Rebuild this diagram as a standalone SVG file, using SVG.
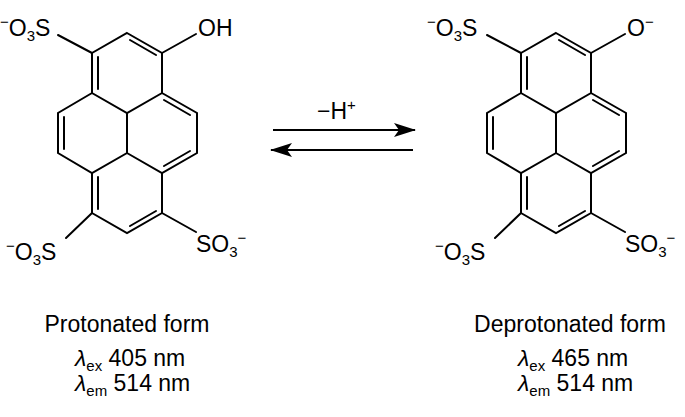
<svg xmlns="http://www.w3.org/2000/svg" width="685" height="417" viewBox="0 0 685 417">
<defs>
<style>
.b{stroke:#000;stroke-width:2;fill:none;stroke-linecap:round}
text{font-family:"Liberation Sans",Arial,sans-serif;font-size:23px;fill:#000}
.s{font-size:15px}
</style>
<marker id="ah" viewBox="0 0 22 14" refX="21" refY="7" markerWidth="22" markerHeight="14" markerUnits="userSpaceOnUse" orient="auto"><path d="M0,0 L22,7 L0,14 L5,7 z" fill="#000"/></marker>
<g id="mol">
<path class="b" d="M127,33 L162,53 L162,93 L127,113 L92,93 L92,53 Z M92,93 L58,113 L58,153 L92,173 L127,153 L127,113 M162,93 L197,113 L197,153 L162,173 L127,153 M92,173 L92,213 L127,233 L162,213 L162,173"/>
<path class="b" d="M130,40 L156,55 M98,57 L98,89 M64,117 L64,149 M164,100 L190,115 M164,166 L190,151 M98,177 L98,209 M130,226 L156,211"/>
<path class="b" d="M92,53 L58,35 M162,53 L196,34 M92,213 L66,238 M162,213 L196,232"/>
</g>
</defs>
<g id="protonated">
<use href="#mol"/>
<text x="0" y="36"><tspan class="s" dy="-9">−</tspan><tspan dy="9">O</tspan><tspan class="s" dy="5">3</tspan><tspan dy="-5">S</tspan></text>
<text x="198" y="36">OH</text>
<text x="6" y="260"><tspan class="s" dy="-9">−</tspan><tspan dy="9">O</tspan><tspan class="s" dy="5">3</tspan><tspan dy="-5">S</tspan></text>
<text x="196" y="252">SO<tspan class="s" dy="5">3</tspan><tspan class="s" dy="-14">−</tspan></text>
<text x="127" y="332" text-anchor="middle">Protonated form</text>
<text x="75" y="366"><tspan font-style="italic">λ</tspan><tspan class="s" dy="5">ex</tspan><tspan dy="-5"> 405 nm</tspan></text>
<text x="75" y="391"><tspan font-style="italic">λ</tspan><tspan class="s" dy="5">em</tspan><tspan dy="-5"> 514 nm</tspan></text>
</g>
<g id="deprotonated">
<use href="#mol" x="429"/>
<text x="427" y="36"><tspan class="s" dy="-9">−</tspan><tspan dy="9">O</tspan><tspan class="s" dy="5">3</tspan><tspan dy="-5">S</tspan></text>
<text x="627" y="36">O<tspan class="s" dy="-9">−</tspan></text>
<text x="435" y="260"><tspan class="s" dy="-9">−</tspan><tspan dy="9">O</tspan><tspan class="s" dy="5">3</tspan><tspan dy="-5">S</tspan></text>
<text x="625" y="252">SO<tspan class="s" dy="5">3</tspan><tspan class="s" dy="-14">−</tspan></text>
<text x="570" y="332" text-anchor="middle">Deprotonated form</text>
<text x="518" y="366"><tspan font-style="italic">λ</tspan><tspan class="s" dy="5">ex</tspan><tspan dy="-5"> 465 nm</tspan></text>
<text x="518" y="391"><tspan font-style="italic">λ</tspan><tspan class="s" dy="5">em</tspan><tspan dy="-5"> 514 nm</tspan></text>
</g>
<g id="connectors">
<line x1="273" y1="130" x2="415" y2="130" stroke="#000" stroke-width="2" marker-end="url(#ah)"/>
<line x1="413" y1="150" x2="271" y2="150" stroke="#000" stroke-width="2" marker-end="url(#ah)"/>
<text x="317" y="119">−H<tspan class="s" dy="-9">+</tspan></text>
</g>
</svg>
